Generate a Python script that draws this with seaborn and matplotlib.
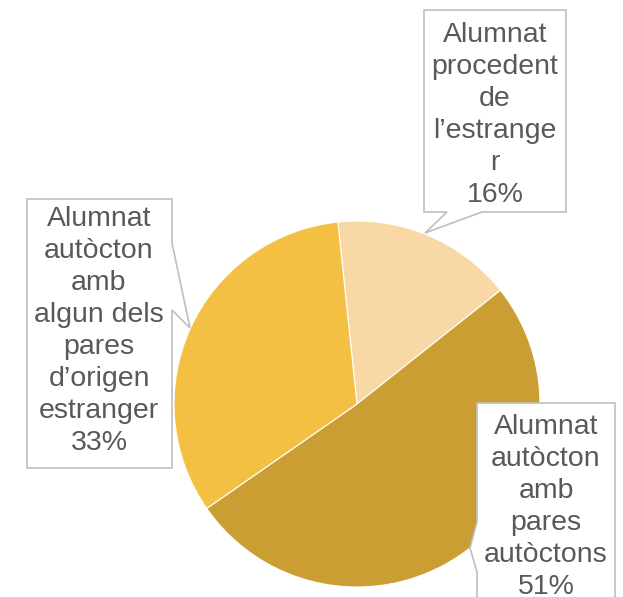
import matplotlib
matplotlib.use("Agg")
import matplotlib.pyplot as plt
import seaborn as sns
from matplotlib.patches import Polygon

# data
labels = [
    "Alumnat\nprocedent\nde\nl’estrange\nr",
    "Alumnat\nautòcton\namb\npares\nautòctons",
    "Alumnat\nautòcton\namb\nalgun dels\npares\nd’origen\nestranger",
]
shares = [16, 51, 33]
colors = ["#F8D9A6", "#CA9E33", "#F3C043"]

sns.set_theme(style="white")
plt.rcParams["font.family"] = ["Liberation Sans", "DejaVu Sans"]

W, H = 623, 597
fig = plt.figure(figsize=(W / 100, H / 100), dpi=100)
ax = fig.add_axes([0, 0, 1, 1])

# pie in pixel coords (y measured from bottom)
ax.pie(shares, colors=colors, startangle=96, counterclock=False,
       center=(357, H - 404), radius=183,
       wedgeprops=dict(linewidth=0.8, edgecolor="white"))
ax.set_xlim(0, W)
ax.set_ylim(0, H)
ax.set_aspect("equal")
ax.axis("off")


def callout(pts, text_xy, text):
    poly = Polygon([(x, H - y) for x, y in pts], closed=True,
                   facecolor="white", edgecolor="#BFBFBF", linewidth=1.2,
                   zorder=3)
    ax.add_patch(poly)
    ax.text(text_xy[0], H - text_xy[1], text, ha="center", va="top",
            fontsize=20.5, color="#595959", linespacing=1.30, zorder=4)


# label boxes with pointers (pixel coords from top)
callout([(424, 10), (566, 10), (566, 212), (482, 212), (425, 233),
         (447, 212), (424, 212)],
        (495, 22), labels[0] + "\n" + f"{shares[0]}%")
callout([(27, 199), (172, 199), (172, 243), (190, 328), (172, 310),
         (172, 468), (27, 468)],
        (99, 206), labels[2] + "\n" + f"{shares[2]}%")
callout([(477, 403), (615, 403), (615, 640), (477, 640), (477, 572),
         (470, 548), (477, 522)],
        (546, 414), labels[1] + "\n" + f"{shares[1]}%")

fig.savefig("out.png", dpi=100)
